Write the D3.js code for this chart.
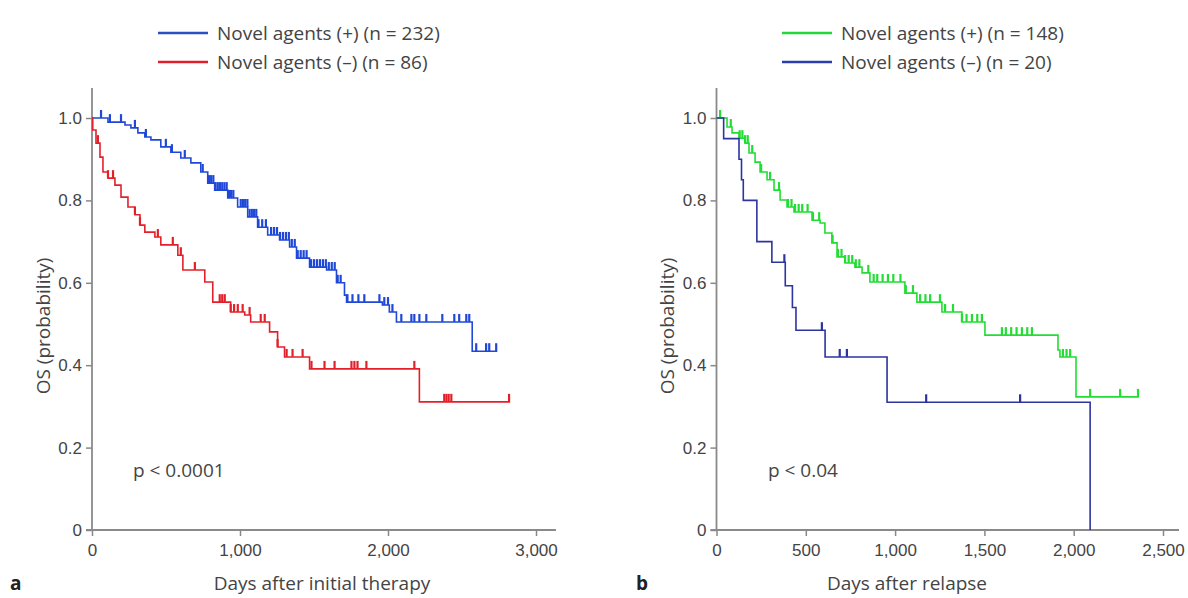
<!DOCTYPE html>
<html>
<head>
<meta charset="utf-8">
<script src="https://cdn.jsdelivr.net/npm/d3@7"></script>
<style>
  body { margin: 0; background: #fff; }
  svg { font-family: "Open Sans", "Noto Sans", sans-serif; }
  .tick text { fill: #444; font-size: 17px; }
  .lbl { fill: #444; font-size: 19px; }
</style>
</head>
<body>
<svg id="chart" width="1188" height="598"></svg>
<script>

// panel a: days after initial therapy
var aPlusSteps = [[0,1],[108,0.990],[223,0.983],[263,0.976],[310,0.964],[357,0.954],[398,0.947],[465,0.930],
	[533,0.917],[600,0.903],[668,0.891],[735,0.869],[782,0.842],[829,0.825],[917,0.806],[984,0.784],
	[1052,0.760],[1119,0.735],[1187,0.716],[1268,0.704],[1335,0.687],[1382,0.660],[1470,0.638],
	[1585,0.631],[1652,0.600],[1706,0.570],[1720,0.553],[1962,0.546],[2009,0.529],[2057,0.505],[2569,0.434]];
var aPlusEnd = 2738;
var aPlusCensor = [61,121,196,290,364,499,540,627,748,790,805,820,835,850,865,880,895,910,925,940,955,
	1005,1020,1035,1050,1065,1080,1095,1110,1125,1150,1175,1210,1230,1250,1270,1290,1310,1330,1350,1370,
	1390,1410,1430,1450,1480,1500,1520,1540,1560,1580,1600,1620,1640,1660,1680,1726,1760,1800,1840,
	1942,1975,2000,2030,2090,2158,2178,2212,2259,2367,2448,2481,2529,2549,2596,2663,2684,2731];

var aMinusSteps = [[0,1],[5,0.971],[27,0.939],[54,0.905],[74,0.869],[108,0.854],[155,0.837],[196,0.808],
	[243,0.784],[290,0.765],[324,0.740],[357,0.723],[425,0.711],[465,0.692],[580,0.667],[614,0.631],
	[762,0.602],[816,0.553],[937,0.529],[1032,0.522],[1072,0.505],[1200,0.481],[1254,0.444],[1301,0.420],
	[1470,0.391],[2212,0.311]];
var aMinusEnd = 2825;
var aMinusCensor = [40,108,142,290,324,445,546,600,695,863,880,897,937,960,985,1018,1065,1140,1167,1254,
	1315,1355,1423,1483,1571,1639,1753,1773,1794,1854,2178,2380,2395,2410,2428,2818];

// panel b: days after relapse
var bPlusSteps = [[0,1],[59,0.978],[87,0.964],[126,0.951],[160,0.939],[182,0.915],[216,0.893],[244,0.869],
	[283,0.850],[322,0.825],[356,0.801],[395,0.784],[434,0.772],[535,0.752],[580,0.745],[607,0.721],
	[646,0.697],[675,0.663],[720,0.648],[775,0.638],[815,0.624],[859,0.602],[1055,0.575],[1122,0.553],
	[1262,0.529],[1374,0.505],[1503,0.473],[1912,0.437],[1923,0.420],[2013,0.323]];
var bPlusEnd = 2365;
var bPlusCensor = [20,80,130,145,160,175,200,250,300,350,400,420,440,460,480,510,540,575,650,680,700,
	720,740,760,780,800,850,880,900,930,960,990,1030,1060,1100,1140,1170,1196,1251,1280,1324,1374,1400,
	1430,1460,1486,1598,1620,1650,1680,1710,1740,1766,1940,1960,1980,2092,2260,2360];

var bMinusSteps = [[0,1],[40,0.95],[126,0.90],[140,0.85],[150,0.80],[226,0.70],[310,0.65],[385,0.593],
	[425,0.54],[445,0.485],[608,0.42],[955,0.31],[2092,0]];
var bMinusEnd = 2092;
var bMinusCensor = [380,590,690,730,1174,1700];

var yTicks = [0,0.2,0.4,0.6,0.8,1.0];
var aXTicks = [0,1000,2000,3000];
var bXTicks = [0,500,1000,1500,2000,2500];

var svg = d3.select("#chart");

function survAt(steps, t){
	var s = 1;
	steps.forEach(function(d){ if (d[0] <= t) s = d[1]; });
	return s;
}

function panel(cfg){
	var g = svg.append("g");
	var x = d3.scaleLinear().domain(cfg.xDomain).range(cfg.xRange);
	var y = d3.scaleLinear().domain([0,1]).range([530,118]);

	//axes
	var xAxis = g.append("g").attr("transform","translate(0,530)")
		.call(d3.axisBottom(x).tickValues(cfg.xTicks).tickSize(6).tickSizeOuter(0)
			.tickFormat(function(d){ return d == 0 ? "0" : d3.format(",")(d); }));
	var yAxis = g.append("g").attr("transform","translate(" + cfg.xRange[0] + ",0)")
		.call(d3.axisLeft(y).tickValues(yTicks).tickSize(6).tickSizeOuter(0)
			.tickFormat(function(d){ return d == 0 ? "0" : d3.format(".1f")(d); }));
	g.selectAll(".domain").remove();
	g.selectAll(".tick line").attr("stroke","#888").attr("stroke-width",1.5);
	xAxis.selectAll("text").attr("dy","1.0em");
	yAxis.selectAll("text").attr("x",-10);
	g.append("line").attr("x1",cfg.xRange[0]-6).attr("x2",cfg.axisEnd).attr("y1",530).attr("y2",530)
		.attr("stroke","#8a8a8a").attr("stroke-width",1.8);
	g.append("line").attr("x1",cfg.xRange[0]).attr("x2",cfg.xRange[0]).attr("y1",530).attr("y2",88)
		.attr("stroke","#8a8a8a").attr("stroke-width",1.8);

	//curves
	var line = d3.line().x(function(d){ return x(d[0]); }).y(function(d){ return y(d[1]); })
		.curve(d3.curveStepAfter);
	cfg.series.forEach(function(s){
		var pts = s.steps.slice();
		if (s.end > pts[pts.length-1][0]) pts.push([s.end, pts[pts.length-1][1]]);
		g.append("path").attr("d", line(pts)).attr("fill","none")
			.attr("stroke", s.color).attr("stroke-width",1.6);
		g.selectAll(null).data(s.censor).enter().append("line")
			.attr("x1", function(d){ return x(d); }).attr("x2", function(d){ return x(d); })
			.attr("y1", function(d){ return y(survAt(s.steps, d)); })
			.attr("y2", function(d){ return y(survAt(s.steps, d)) - 8; })
			.attr("stroke", s.color).attr("stroke-width",2.2);
	});

	//legend
	cfg.series.forEach(function(s, i){
		var ly = 33 + i*29;
		g.append("line").attr("x1",cfg.legX).attr("x2",cfg.legX+50).attr("y1",ly).attr("y2",ly)
			.attr("stroke", s.legColor).attr("stroke-width",2.5);
		g.append("text").attr("class","lbl").attr("x",cfg.legX+59).attr("y",ly+7).text(s.name);
	});

	g.append("text").attr("class","lbl").attr("x",cfg.pX).attr("y",477).text(cfg.pText);
	g.append("text").attr("class","lbl").attr("text-anchor","middle")
		.attr("transform","translate(" + cfg.yTitleX + ",326) rotate(-90)").text("OS (probability)");
	g.append("text").attr("class","lbl").attr("text-anchor","middle")
		.attr("x",cfg.xTitleX).attr("y",590).text(cfg.xTitle);
	g.append("text").attr("class","lbl").attr("x",cfg.letterX).attr("y",590)
		.style("font-weight","bold").style("fill","#222").text(cfg.letter);
}

panel({
	xDomain:[0,3000], xRange:[92,536], axisEnd:556, xTicks:aXTicks,
	legX:158, pX:133, pText:"p < 0.0001", yTitleX:50, xTitleX:322,
	xTitle:"Days after initial therapy", letter:"a", letterX:10,
	series:[
		{name:"Novel agents (+) (n = 232)", steps:aPlusSteps, end:aPlusEnd, censor:aPlusCensor, color:"#1f48d8", legColor:"#2a4fc0"},
		{name:"Novel agents (\u2013) (n = 86)", steps:aMinusSteps, end:aMinusEnd, censor:aMinusCensor, color:"#e3202a", legColor:"#e02028"}
	]
});

panel({
	xDomain:[0,2500], xRange:[716.5,1163], axisEnd:1179, xTicks:bXTicks,
	legX:782, pX:768, pText:"p < 0.04", yTitleX:674, xTitleX:907,
	xTitle:"Days after relapse", letter:"b", letterX:636,
	series:[
		{name:"Novel agents (+) (n = 148)", steps:bPlusSteps, end:bPlusEnd, censor:bPlusCensor, color:"#22dd33", legColor:"#22d83a"},
		{name:"Novel agents (\u2013) (n = 20)", steps:bMinusSteps, end:bMinusEnd, censor:bMinusCensor, color:"#2c34a0", legColor:"#2a3cb0"}
	]
});

</script>
</body>
</html>
